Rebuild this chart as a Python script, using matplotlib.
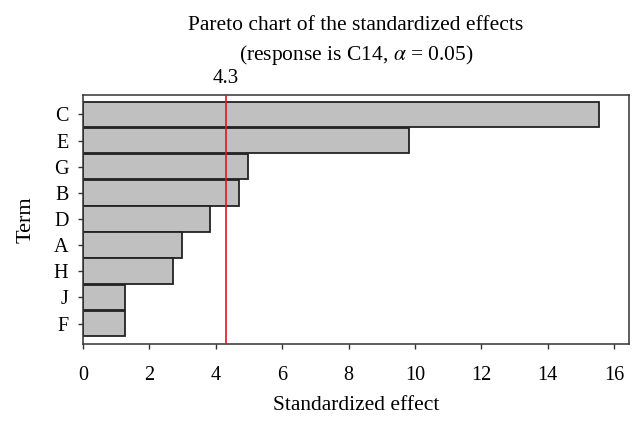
import matplotlib
matplotlib.use("Agg")
import matplotlib.pyplot as plt

terms = ["C", "E", "G", "B", "D", "A", "H", "J", "F"]
effects = [15.55, 9.83, 4.97, 4.70, 3.84, 2.97, 2.70, 1.26, 1.26]
critical = 4.3
xticks = [0, 2, 4, 6, 8, 10, 12, 14, 16]

plt.rcParams['font.family'] = ['Liberation Serif', 'DejaVu Serif']
plt.rcParams['mathtext.fontset'] = 'stix'

W, H = 643, 422
fig = plt.figure(figsize=(W / 100, H / 100), dpi=100)
ax_l, ax_r, ax_t, ax_b = 83, 629, 95, 344
ax = fig.add_axes([ax_l / W, 1 - ax_b / H, (ax_r - ax_l) / W, (ax_b - ax_t) / H])

n = len(terms)
ypos = list(range(n - 1, -1, -1))
ax.barh(ypos, effects, height=0.98, color="#c0c0c0", edgecolor="#222222", linewidth=1.3)
ax.axvline(critical, color="#e8141c", linewidth=1.2, zorder=3)

ax.set_xlim(0, 16.45)
ax.set_ylim(-0.78, n - 0.26)
ax.set_yticks(ypos)
ax.set_yticklabels(terms)
ax.set_xticks(xticks)
ax.set_xticklabels([str(t) for t in xticks])
ax.tick_params(axis='both', labelsize=14.5, direction='out', length=3.5, width=1.0, color="#333333")
ax.tick_params(axis='x', pad=12)
ax.tick_params(axis='y', pad=7)
for s in ax.spines.values():
    s.set_color("#333333")
    s.set_linewidth(1.1)

ax.set_xlabel("Standardized effect", fontsize=15.5)
ax.xaxis.set_label_coords(0.5, -(410 - ax_b) / (ax_b - ax_t))
ax.xaxis.label.set_va('baseline')
ax.set_ylabel("Term", fontsize=16)
ax.yaxis.set_label_coords(-(ax_l - 26) / (ax_r - ax_l), 0.5)
ax.yaxis.label.set_va('center')
ax.yaxis.label.set_ha('center')

ax.text(critical, 1 - 83 / H, "4.3", transform=ax.get_xaxis_transform().__class__(ax.transData, fig.transFigure),
        ha="center", va="baseline", fontsize=15)
cx = (ax_l + ax_r) / 2 / W
fig.text(cx, 1 - 30 / H, "Pareto chart of the standardized effects", ha="center", va="baseline", fontsize=15.5)
fig.text(cx, 1 - 60 / H, "(response is C14, $\\alpha$ = 0.05)", ha="center", va="baseline", fontsize=15.5)

fig.savefig("out.png", dpi=100)
